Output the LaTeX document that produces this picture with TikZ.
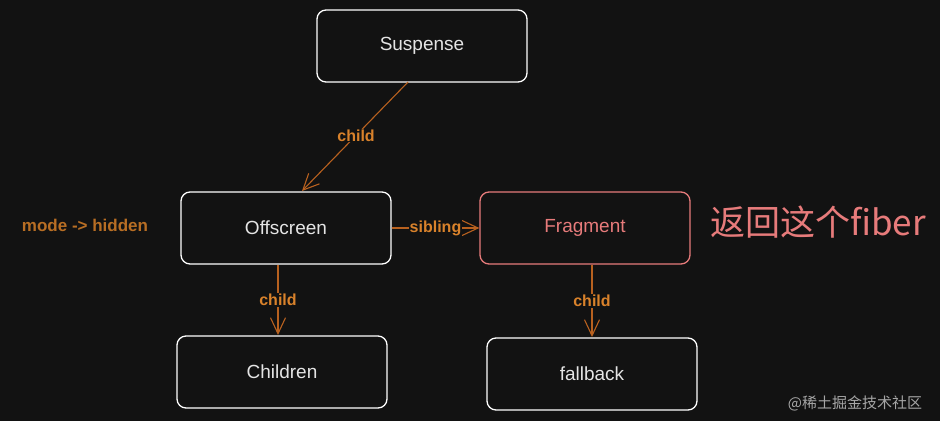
\documentclass[tikz,border=0pt]{standalone}
\usepackage{fontspec}
\setmainfont{Liberation Sans}
\newfontfamily\cjk{Noto Sans CJK SC}
\usetikzlibrary{arrows.meta}
\definecolor{bgdark}{HTML}{121212}
\definecolor{linkbrown}{HTML}{B8611F}
\definecolor{labelorange}{HTML}{D9822B}
\definecolor{pinkred}{HTML}{E77B7B}
\begin{document}
\begin{tikzpicture}[
    x=1pt, y=-1pt,
    box/.style={draw=white, line width=1.3pt, rounded corners=9pt, minimum width=210pt,
      minimum height=72pt, text=white!90!black, font=\fontsize{19}{22}\selectfont},
    link/.style={draw=linkbrown, line width=1.1pt, -{Straight Barb[length=16pt,width=15pt]}},
    tag/.style={fill=bgdark, text=labelorange, inner sep=1pt, font=\fontsize{16}{18}\selectfont\bfseries}
  ]

  % background
  \fill[bgdark] (0,0) rectangle (940,421);
  \useasboundingbox (0,0) rectangle (940,421);

  % boxes
  \node[box] (suspense) at (422,46) {Suspense};
  \node[box] (offscreen) at (286,228) {Offscreen};
  \node[box, draw=pinkred, text=pinkred] (fragment) at (585,228) {Fragment};
  \node[box] (children) at (282,372) {Children};
  \node[box] (fallback) at (592,374) {fallback};

  % links
  \coordinate (s1) at (408,82);
  \coordinate (o1) at (302,191);
  \draw[link] (s1) -- (o1) node[tag, pos=0.49] {child};
  \draw[link] (offscreen.east) -- (fragment.west) node[tag, midway] {sibling};
  \coordinate (o2) at (278,265);
  \coordinate (c1) at (278,335);
  \draw[link] (o2) -- (c1) node[tag, midway] {child};
  \coordinate (f1) at (592,265);
  \coordinate (f2) at (592,337);
  \draw[link] (f1) -- (f2) node[tag, midway] {child};

  % notes
  \node[text=labelorange!85!black, font=\fontsize{17}{20}\selectfont\bfseries] (mode) at (85,225) {mode -> hidden};
  \node[text=pinkred, font=\fontsize{35}{38}\selectfont] (back) at (818,222) {\cjk 返回这个fiber};
  \node[text=gray!70, font=\fontsize{15}{17}\selectfont] (mark) at (855,403) {\cjk @稀土掘金技术社区};

\end{tikzpicture}
\end{document}
